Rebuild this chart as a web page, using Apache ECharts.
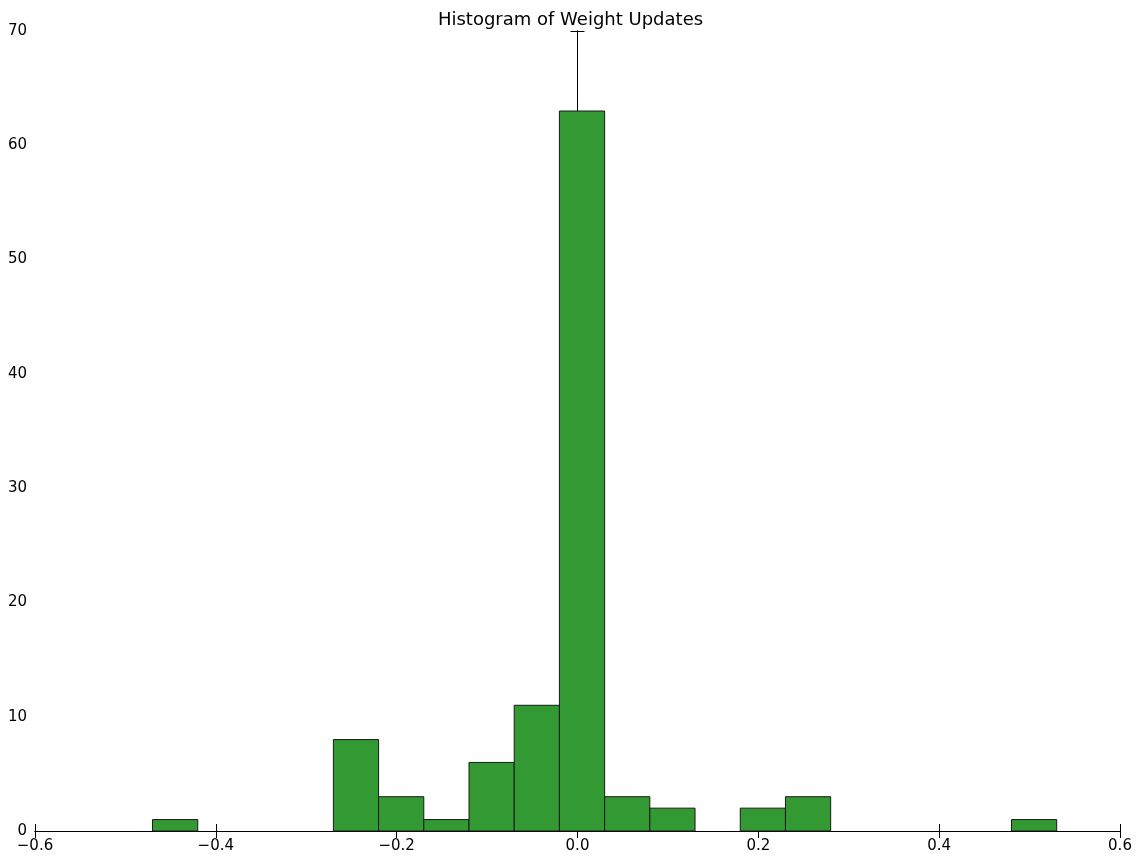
<!DOCTYPE html>
<html>
<head>
<meta charset="UTF-8">
<title>Histogram of Weight Updates</title>
<script src="https://cdn.jsdelivr.net/npm/echarts@6/dist/echarts.min.js"></script>
<style>body{margin:0;background:#fff}</style>
</head>
<body>
<div id="container" style="width:1141px;height:862px;"></div>
<script>
    // bin left edges, bin width and counts
    var binStarts = [-0.47, -0.27, -0.22, -0.17, -0.12, -0.07, -0.02, 0.03, 0.08, 0.18, 0.23, 0.48];
    var binWidth = 0.05;
    var counts = [1, 8, 3, 1, 6, 11, 63, 3, 2, 2, 3, 1];

    var data = [];
    for (var i = 0; i < binStarts.length; i++) {
        data.push([binStarts[i], binStarts[i] + binWidth, counts[i]]);
    }

    var font = 'DejaVu Sans';
    function axis(pos, showLabel, extra) {
        var a = {
            type: 'value', position: pos,
            axisLine: { show: true, lineStyle: { color: '#000', width: 1 } },
            axisTick: { show: true, inside: true, length: 7, lineStyle: { color: '#000' } },
            axisLabel: { show: showLabel, color: '#000', fontFamily: font, fontSize: 15, margin: 8 },
            splitLine: { show: false }
        };
        for (var k in extra) a[k] = extra[k];
        return a;
    }

    var chart = echarts.init(document.getElementById('container'));
    chart.setOption({
        animation: false,
        title: { text: 'Histogram of Weight Updates', left: 'center', top: 6,
            textStyle: { fontFamily: font, fontSize: 18, fontWeight: 'normal', color: '#000' } },
        grid: { left: 35, right: 21, top: 31, bottom: 31 },
        xAxis: [
            axis('bottom', true, { min: -0.6, max: 0.6, interval: 0.2,
                axisLabel: { color: '#000', fontFamily: font, fontSize: 15, margin: 8,
                    formatter: function (v) { var s = (Math.round(v * 10) / 10).toFixed(1); return s.replace('-', '\u2212'); } } }),
            axis('top', false, { min: -0.6, max: 0.6, interval: 0.2 })
        ],
        yAxis: [
            axis('left', true, { min: 0, max: 70, interval: 10 }),
            axis('right', false, { min: 0, max: 70, interval: 10 })
        ],
        series: [{
            type: 'custom',
            data: data,
            encode: { x: [0, 1], y: 2 },
            renderItem: function (params, api) {
                var p0 = api.coord([api.value(0), api.value(2)]);
                var p1 = api.coord([api.value(1), 0]);
                return {
                    type: 'rect',
                    shape: { x: p0[0], y: p0[1], width: p1[0] - p0[0], height: p1[1] - p0[1] },
                    style: { fill: '#339933', stroke: '#1a1a1a', lineWidth: 1 }
                };
            }
        }]
    });
</script>
</body>
</html>
